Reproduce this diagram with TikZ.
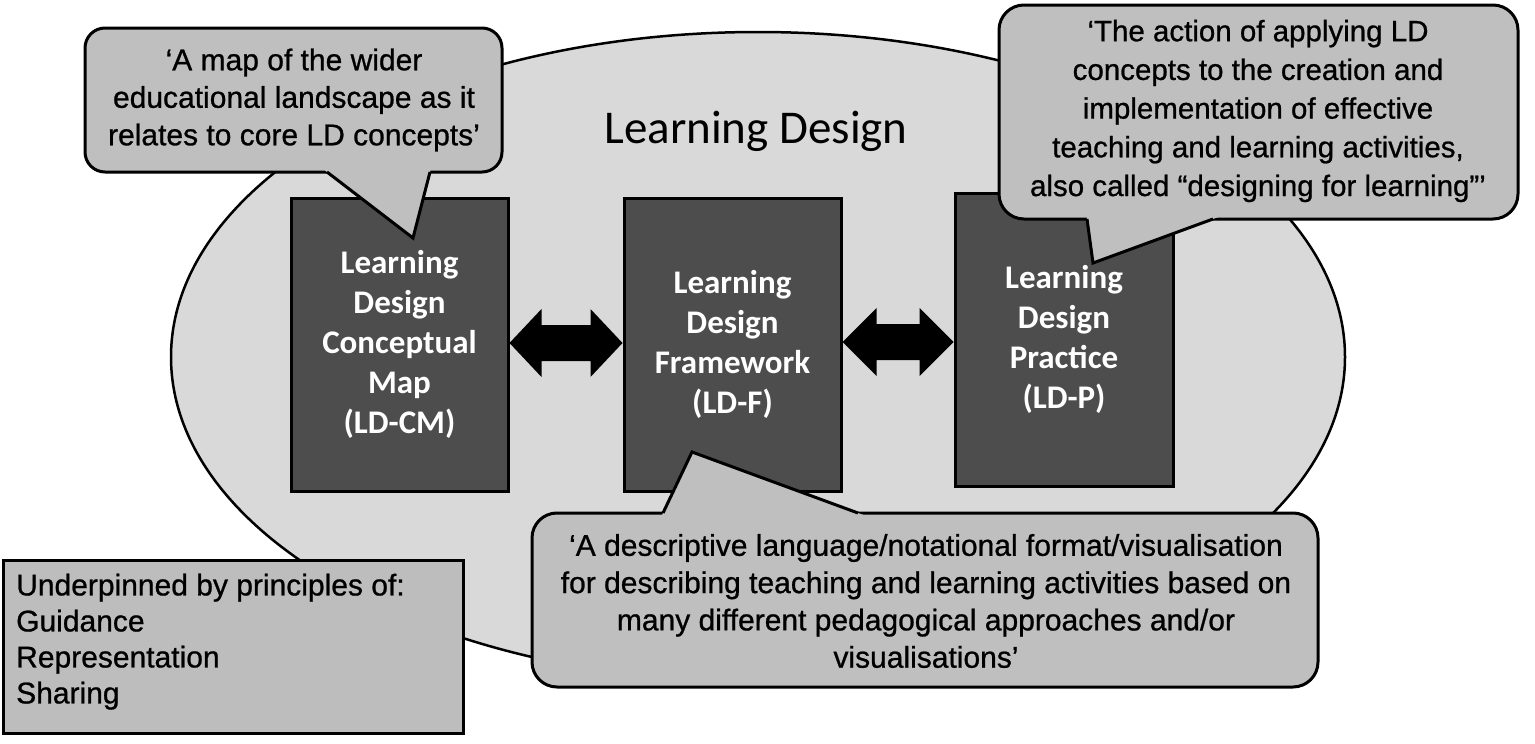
\documentclass[tikz,border=0pt]{standalone}
\usepackage{fontspec}
\setmainfont{Liberation Sans}
\newfontfamily\calfont[FakeBold=0.8]{Liberation Sans}
\newfontfamily\carlito{Carlito}
\usetikzlibrary{shapes.geometric,calc}
\definecolor{ellfill}{RGB}{217,217,217}
\definecolor{boxfill}{RGB}{77,77,77}
\definecolor{calfill}{RGB}{191,191,191}
\definecolor{notefill}{RGB}{189,189,189}
\begin{document}
\begin{tikzpicture}[x=1pt,y=-1pt,
  ldbox/.style={draw=black, line width=3pt, fill=boxfill, minimum width=217pt, minimum height=293pt, inner sep=0pt, text=white, align=center, font=\carlito\bfseries\fontsize{33pt}{40pt}\selectfont},
  calloutbg/.style={draw=black, line width=3pt, fill=calfill},
  pointerline/.style={draw=black, line width=3pt, line join=miter},
  callouttext/.style={align=center, font=\calfont\fontsize{30pt}{37.5pt}\selectfont, inner sep=0pt},
  bigarrow/.style={fill=black},
]
\useasboundingbox (0,0) rectangle (1535,744);
\fill[white] (0,0) rectangle (1535,744);

% big ellipse
\node[ellipse, draw=black, line width=2.5pt, fill=ellfill, minimum width=1174pt, minimum height=650pt, inner sep=0pt] (ld) at (758,357) {};
\node[anchor=base, font=\carlito\fontsize{47pt}{56pt}\selectfont, inner sep=0pt] (title) at (756,143) {Learning Design};

% boxes
\node[ldbox] (cm) at (399.5,344.5) {Learning\\Design\\Conceptual\\Map\\(LD-CM)};
\node[ldbox] (fw) at (732.5,344.5) {Learning\\Design\\Framework\\(LD-F)};
\node[ldbox, minimum width=218pt] (pr) at (1064,339.5) {Learning\\Design\\Practice\\(LD-P)};

% double arrows
\coordinate (y1) at (0,343);
\coordinate (y2) at (0,342);
\coordinate (a1l) at (cm.east |- y1);
\coordinate (a1r) at (fw.west |- y1);
\coordinate (a2l) at (fw.east |- y2);
\coordinate (a2r) at (pr.west |- y2);
\fill[bigarrow] (a1l) -- ++(32,-34) -- ++(0,16) -- ($(a1r)+(-32,-18)$) -- ++(0,-16) -- (a1r) -- ++(-32,34) -- ++(0,-16) -- ($(a1l)+(32,18)$) -- ++(0,16) -- cycle;
\fill[bigarrow] (a2l) -- ++(34,-34) -- ++(0,16) -- ($(a2r)+(-34,-18)$) -- ++(0,-16) -- (a2r) -- ++(-34,34) -- ++(0,-16) -- ($(a2l)+(34,18)$) -- ++(0,16) -- cycle;

% callout 1
\coordinate (c1a) at (327,172);
\coordinate (c1b) at (430,172);
\coordinate (c1tip) at (413,238);
\draw[calloutbg, rounded corners=20pt] (85,28) rectangle (502,172);
\fill[calfill] ($(c1tip)!1.15!(c1a)$) -- (c1tip) -- ($(c1tip)!1.15!(c1b)$) -- cycle;
\draw[pointerline] (c1a) -- (c1tip) -- (c1b);
\node[callouttext] (t1) at (294,100) {‘A map of the wider\\educational landscape as it\\relates to core LD concepts’};

% callout 2
\coordinate (c2a) at (1087,219);
\coordinate (c2b) at (1213,219);
\coordinate (c2tip) at (1093,263);
\draw[calloutbg, rounded corners=25pt] (999,5) rectangle (1518,219);
\fill[calfill] ($(c2tip)!1.15!(c2a)$) -- (c2tip) -- ($(c2tip)!1.15!(c2b)$) -- cycle;
\draw[pointerline] (c2a) -- (c2tip) -- (c2b);
\node[callouttext, font=\calfont\fontsize{29.5pt}{38.7pt}\selectfont] (t2) at (1258,111) {‘The action of applying LD\\concepts to the creation and\\implementation of effective\\teaching and learning activities,\\also called “designing for learning”’};

% callout 3
\coordinate (c3a) at (663,513);
\coordinate (c3b) at (858,513);
\coordinate (c3tip) at (692,452);
\draw[calloutbg, rounded corners=25pt] (532,513) rectangle (1318,687);
\fill[calfill] ($(c3tip)!1.12!(c3a)$) -- (c3tip) -- ($(c3tip)!1.12!(c3b)$) -- cycle;
\draw[pointerline] (c3a) -- (c3tip) -- (c3b);
\node[callouttext, font=\calfont\fontsize{30pt}{37.3pt}\selectfont] (t3) at (926,601) {‘A descriptive language/notational format/visualisation\\for describing teaching and learning activities based on\\many different pedagogical approaches and/or\\visualisations’};

% note box
\node[draw=black, line width=3pt, fill=notefill, minimum width=460pt, minimum height=173pt, inner sep=0pt] (note) at (233,646.5) {};
\node[anchor=north west, align=left, font=\calfont\fontsize{30pt}{36pt}\selectfont, inner sep=0pt] (notetext) at (16,573.5) {Underpinned by principles of:\\Guidance\\Representation\\Sharing};
\end{tikzpicture}
\end{document}
